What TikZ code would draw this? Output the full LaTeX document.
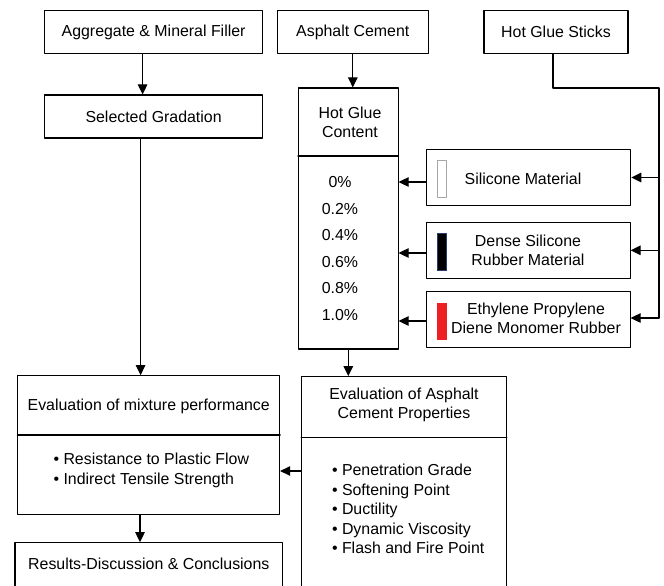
\documentclass[tikz,border=0pt]{standalone}
\usepackage{fontspec}
\setmainfont{Liberation Sans}
\usepackage{xcolor}
\usepackage{tikz}
\usetikzlibrary{arrows.meta,calc}
\definecolor{swred}{RGB}{238,32,36}
\definecolor{swblue}{RGB}{40,60,110}

\begin{document}
\begin{tikzpicture}[x=1pt,y=-1pt,line cap=round,line join=round,
  font=\fontsize{15.9}{19}\selectfont,
  box/.style={draw,line width=1.1pt,inner sep=0pt,align=center},
  arr/.style={line width=1.1pt,-{Triangle[length=10pt,width=9.5pt]}},
  wire/.style={line width=1.1pt},
  swatch/.style={inner sep=0pt,minimum width=9.4pt,minimum height=37pt,line width=1pt}]
\useasboundingbox (0,0) rectangle (664,586);
\clip (0,0) rectangle (664,586);
\node [box,minimum width=218pt,minimum height=43pt] (agg) at (153.6,32) {Aggregate \& Mineral Filler};
\node [box,minimum width=151.5pt,minimum height=43pt] (asph) at (352.8,32) {Asphalt Cement};
\node [box,minimum width=144pt,minimum height=43pt] (sticks) at (556,32.3) {Hot Glue Sticks};
\node [box,minimum width=218pt,minimum height=43pt] (sel) at (153.6,116.5) {Selected Gradation};
\node [box,minimum width=99.5pt,minimum height=261pt] (hgc) at (348.3,218.5) {};
\draw [wire] (hgc.west |- 0,156) -- (hgc.east |- 0,156);
\node [align=center] (hgctitle) at (350,122) {Hot Glue\\Content};
\foreach \v [count=\i] in {0\%,0.2\%,0.4\%,0.6\%,0.8\%,1.0\%}
  \node (pc\i) at (340,{182+26.6*(\i-1)}) {\v};
\node [box,minimum width=204pt,minimum height=56.4pt] (sil) at (528.7,177.5) {};
\node (siltext) at (523,179) {Silicone Material};
\node [swatch,draw=gray!70,fill=white] (sw1) at (442,179.2) {};
\node [box,minimum width=203.3pt,minimum height=56pt] (dense) at (528.4,250.3) {};
\node [align=center] (densetext) at (528,250) {Dense Silicone\\Rubber Material};
\node [swatch,draw=swblue,fill=black] (sw2) at (442,252) {};
\node [box,minimum width=203.3pt,minimum height=55.6pt] (epdm) at (528.4,319.5) {};
\node [align=center] (epdmtext) at (536,318) {Ethylene Propylene\\Diene Monomer Rubber};
\node [swatch,fill=swred] (sw3) at (442,321) {};
\coordinate (railtop) at (659,88);
\coordinate (railbot) at (659,318);
\draw [wire] ([xshift=-3pt]sticks.south) |- (railtop) -- (railbot);
\draw [arr] (sil.east -| railtop) -- (sil.east);
\draw [arr] (dense.east -| railtop) -- (dense.east);
\draw [arr] ([yshift=1.5pt]epdm.east -| railtop) -- ([yshift=1.5pt]epdm.east);
\draw [arr] ([yshift=-4.5pt]sil.west) -- ([yshift=-4.5pt]sil.west -| hgc.east);
\draw [arr] ([yshift=-2.7pt]dense.west) -- ([yshift=-2.7pt]dense.west -| hgc.east);
\draw [arr] ([yshift=-1.5pt]epdm.west) -- ([yshift=-1.5pt]epdm.west -| hgc.east);
\node [box,minimum width=261.7pt,minimum height=138.6pt] (mix) at (148.75,445) {};
\draw [wire] (mix.west |- 0,435) -- (mix.east |- 0,435);
\node (mixtitle) at (148.75,406.7) {Evaluation of mixture performance};
\node [align=left,anchor=west,font=\fontsize{15.9}{20}\selectfont] (mixlist) at (50,470)
  {• Resistance to Plastic Flow\\• Indirect Tensile Strength};
\node [box,minimum width=267.6pt,minimum height=80pt] (res) at (148.8,582.7) {};
\node (restext) at (148.8,564) {Results-Discussion \& Conclusions};
\node [box,minimum width=204.7pt,minimum height=240pt] (evalA) at (404,496.7) {};
\draw [wire] (evalA.west |- 0,437.3) -- (evalA.east |- 0,437.3);
\node [align=center] (evalAtitle) at (404,404.5) {Evaluation of Asphalt\\Cement Properties};
\node [align=left,anchor=west,font=\fontsize{15.9}{19.4}\selectfont] (evalAlist) at (328.5,509)
  {• Penetration Grade\\• Softening Point\\• Ductility\\• Dynamic Viscosity\\• Flash and Fire Point};
\draw [arr] ([xshift=-11pt]agg.south) -- ([xshift=-11pt]sel.north);
\draw [arr] (asph.south) -- (asph.south |- hgc.north);
\draw [arr] ([xshift=-13pt]sel.south) -- ([xshift=-13pt]sel.south |- mix.north);
\draw [arr] (hgc.south) -- (hgc.south |- evalA.north);
\draw [arr] (evalA.west |- 0,471) -- (mix.east |- 0,471);
\draw [arr] ([xshift=-8.75pt]mix.south) -- ([xshift=-8.75pt]mix.south |- res.north);
\end{tikzpicture}
\end{document}
